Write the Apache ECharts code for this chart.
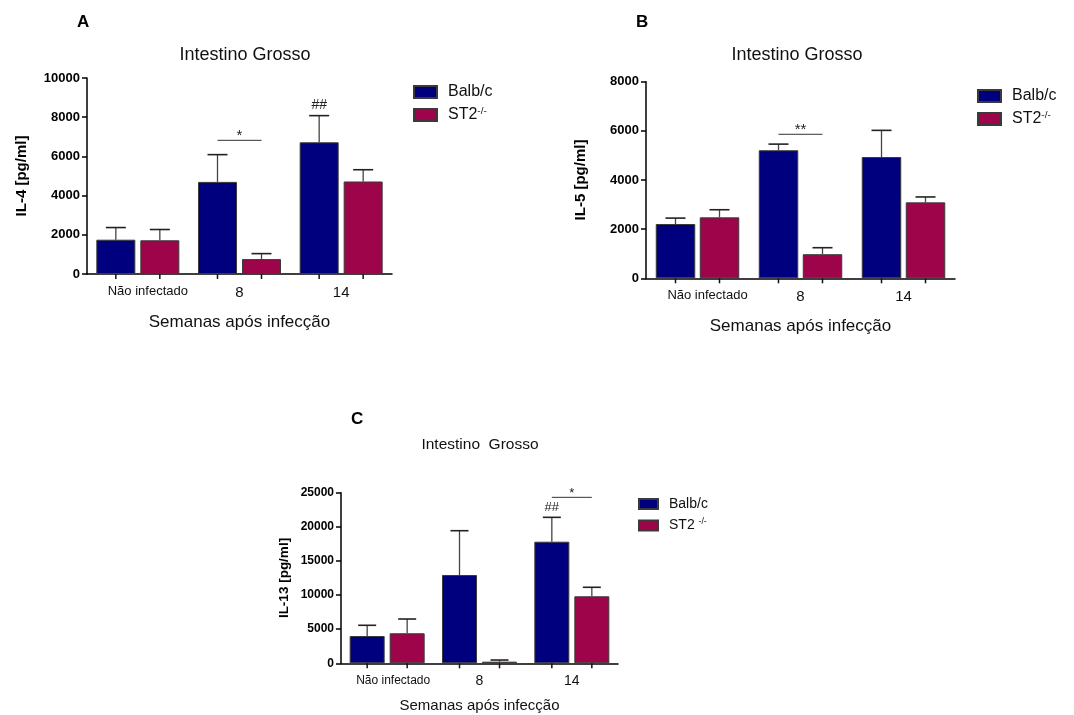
<!DOCTYPE html>
<html>
<head>
<meta charset="utf-8">
<script src="https://cdn.jsdelivr.net/npm/echarts@6/dist/echarts.min.js"></script>
<style>
  html, body { margin: 0; padding: 0; background: #fff; }
  #chart { width: 1074px; height: 715px; }
</style>
</head>
<body>
<div id="chart"></div>
<script>
// dados
const categories = ['Não infectado', '8', '14']

const il4Balb = [1750, 4700, 6720]
const il4BalbSem = [620, 1390, 1360]
const il4St2 = [1720, 760, 4720]
const il4St2Sem = [550, 280, 600]

const il5Balb = [2210, 5210, 4935]
const il5BalbSem = [240, 250, 1085]
const il5St2 = [2480, 980, 3090]
const il5St2Sem = [310, 265, 220]

const il13Balb = [4000, 12940, 17820]
const il13BalbSem = [1570, 6490, 3570]
const il13St2 = [4400, 240, 9820]
const il13St2Sem = [2090, 240, 1320]

// eixos y
const il4Ticks = [0, 2000, 4000, 6000, 8000, 10000]
const il5Ticks = [0, 2000, 4000, 6000, 8000]
const il13Ticks = [0, 5000, 10000, 15000, 20000, 25000]

// significancia: categoria, nivel da linha, texto
const sigCatA = [1], sigLevelA = [6820], sigTextA = ['*']
const sigCatB = [1], sigLevelB = [5860], sigTextB = ['**']
const sigCatC = [2], sigLevelC = [24320], sigTextC = ['*']

// ## acima da barra Balb/c
const hashCatA = [2], hashCatB = [], hashCatC = [2]

const FONT = 'Arial, "Liberation Sans", sans-serif'
const NAVY = '#00007f'
const WINE = '#9e0449'

const panels = [
  {
    grid: { left: 87, top: 78, width: 305, height: 196 },
    ticks: il4Ticks, yName: 'IL-4 [pg/ml]',
    balb: il4Balb, balbSem: il4BalbSem, st2: il4St2, st2Sem: il4St2Sem,
    st2Name: 'ST2-/-', barW: 39, gap: 5, cap: 20,
    sigCat: sigCatA, sigLevel: sigLevelA, sigText: sigTextA, hashCat: hashCatA,
    yFont: 13, yNameFont: 15, yNameGap: 58, xFont: 15, xSmall: 13, xNameFont: 17, xNameGap: 40, padNao: 20, sigFont: 15,
    legend: { left: 413, top: 84, itemWidth: 23, itemHeight: 12, itemGap: 6, fontSize: 16 }
  },
  {
    grid: { left: 646, top: 81.7, width: 309, height: 196.6 },
    ticks: il5Ticks, yName: 'IL-5 [pg/ml]',
    balb: il5Balb, balbSem: il5BalbSem, st2: il5St2, st2Sem: il5St2Sem,
    st2Name: 'ST2-/-', barW: 39.5, gap: 4.5, cap: 20,
    sigCat: sigCatB, sigLevel: sigLevelB, sigText: sigTextB, hashCat: hashCatB,
    yFont: 13, yNameFont: 15, yNameGap: 58, xFont: 15, xSmall: 13, xNameFont: 17, xNameGap: 40, padNao: 20, sigFont: 15,
    legend: { left: 977, top: 88, itemWidth: 23, itemHeight: 12, itemGap: 6, fontSize: 16 }
  },
  {
    grid: { left: 341, top: 492.7, width: 277, height: 170.6 },
    ticks: il13Ticks, yName: 'IL-13 [pg/ml]',
    balb: il13Balb, balbSem: il13BalbSem, st2: il13St2, st2Sem: il13St2Sem,
    st2Name: 'ST2 -/-', barW: 35, gap: 5, cap: 18,
    sigCat: sigCatC, sigLevel: sigLevelC, sigText: sigTextC, hashCat: hashCatC,
    yFont: 12, yNameFont: 13.5, yNameGap: 50, xFont: 14, xSmall: 12, xNameFont: 15, xNameGap: 35, padNao: 12, sigFont: 13,
    legend: { left: 638, top: 497, itemWidth: 19, itemHeight: 10, itemGap: 6, fontSize: 14 }
  }
]

function errRender(off, capW) {
  return function (params, api) {
    const i = api.value(0)
    const m = api.value(1)
    const s = api.value(2)
    const base = api.coord([i, m])
    const top = api.coord([i, m + s])
    const zero = api.coord([i, 0])
    const x = base[0] + off
    return {
      type: 'group',
      children: [
        { type: 'line', shape: { x1: x, y1: base[1], x2: x, y2: top[1] }, style: { stroke: '#444', lineWidth: 1.3 } },
        { type: 'line', shape: { x1: x - capW / 2, y1: top[1], x2: x + capW / 2, y2: top[1] }, style: { stroke: '#222', lineWidth: 1.6 } },
        { type: 'line', shape: { x1: x, y1: zero[1], x2: x, y2: zero[1] + 5 }, style: { stroke: '#111', lineWidth: 1.5 } }
      ]
    }
  }
}

function sigRender(off, texts, fontSize) {
  return function (params, api) {
    const p = api.coord([api.value(0), api.value(1)])
    return {
      type: 'group',
      children: [
        { type: 'line', shape: { x1: p[0] - off, y1: p[1], x2: p[0] + off, y2: p[1] }, style: { stroke: '#333', lineWidth: 1 } },
        { type: 'text', x: p[0], y: p[1] + 3, style: { text: texts[params.dataIndex], font: fontSize + 'px ' + FONT, fill: '#222', align: 'center', verticalAlign: 'bottom' } }
      ]
    }
  }
}

function hashRender(off, fontSize) {
  return function (params, api) {
    const p = api.coord([api.value(0), api.value(1)])
    return {
      type: 'text', x: p[0] + off, y: p[1] - 3,
      style: { text: '##', font: fontSize + 'px ' + FONT, fill: '#222', align: 'center', verticalAlign: 'bottom' }
    }
  }
}

const option = {
  animation: false,
  title: [
    { text: 'A', left: 72, top: 9, textStyle: { fontFamily: FONT, fontWeight: 'bold', fontSize: 17, color: '#000' } },
    { text: 'B', left: 631, top: 9, textStyle: { fontFamily: FONT, fontWeight: 'bold', fontSize: 17, color: '#000' } },
    { text: 'C', left: 346, top: 406, textStyle: { fontFamily: FONT, fontWeight: 'bold', fontSize: 17, color: '#000' } },
    { text: 'Intestino Grosso', left: 240, top: 41, textAlign: 'center', textStyle: { fontFamily: FONT, fontWeight: 'normal', fontSize: 18, color: '#111' } },
    { text: 'Intestino Grosso', left: 792, top: 41, textAlign: 'center', textStyle: { fontFamily: FONT, fontWeight: 'normal', fontSize: 18, color: '#111' } },
    { text: 'Intestino  Grosso', left: 475, top: 432, textAlign: 'center', textStyle: { fontFamily: FONT, fontWeight: 'normal', fontSize: 15.5, color: '#111' } }
  ],
  grid: [],
  xAxis: [],
  yAxis: [],
  legend: [],
  series: []
}

panels.forEach(function (p, k) {
  option.grid.push(Object.assign({ containLabel: false }, p.grid))
  option.xAxis.push({
    type: 'category',
    gridIndex: k,
    data: categories,
    name: 'Semanas após infecção',
    nameLocation: 'middle',
    nameGap: p.xNameGap,
    nameTextStyle: { fontFamily: FONT, fontSize: p.xNameFont, color: '#111', verticalAlign: 'top' },
    axisLine: { lineStyle: { color: '#000', width: 1.5 } },
    axisTick: { show: false },
    axisLabel: {
      interval: 0,
      margin: 11,
      formatter: function (v) { return v === 'Não infectado' ? '{s|' + v + '}' : '{b|' + v + '}' },
      rich: {
        s: { fontFamily: FONT, fontSize: p.xSmall, color: '#111', padding: [0, 0, 0, p.padNao] },
        b: { fontFamily: FONT, fontSize: p.xFont, color: '#111' }
      }
    }
  })
  option.yAxis.push({
    type: 'value',
    gridIndex: k,
    min: 0,
    max: p.ticks[p.ticks.length - 1],
    interval: p.ticks[1] - p.ticks[0],
    name: p.yName,
    nameLocation: 'middle',
    nameGap: p.yNameGap,
    nameTextStyle: { fontFamily: FONT, fontSize: p.yNameFont, fontWeight: 'bold', color: '#000' },
    axisLine: { show: true, lineStyle: { color: '#000', width: 1.5 } },
    axisTick: { show: true, length: 5, lineStyle: { color: '#000', width: 1.5 } },
    axisLabel: {
      margin: 7, fontFamily: FONT, fontSize: p.yFont, fontWeight: 'bold', color: '#000',
      formatter: function (v) { return String(v) }
    },
    splitLine: { show: false }
  })

  const off = (p.barW + p.gap) / 2
  const itemBorder = { borderColor: '#3a3a3a', borderWidth: 1 }
  option.series.push({
    name: 'Balb/c', type: 'bar', xAxisIndex: k, yAxisIndex: k,
    data: p.balb, barWidth: p.barW, barGap: (p.gap / p.barW * 100) + '%',
    itemStyle: Object.assign({ color: NAVY }, itemBorder)
  })
  option.series.push({
    name: p.st2Name, type: 'bar', xAxisIndex: k, yAxisIndex: k,
    data: p.st2, barWidth: p.barW, barGap: (p.gap / p.barW * 100) + '%',
    itemStyle: Object.assign({ color: WINE }, itemBorder)
  })
  option.series.push({
    type: 'custom', xAxisIndex: k, yAxisIndex: k, z: 5, clip: false,
    renderItem: errRender(-off, p.cap),
    data: categories.map(function (c, i) { return [i, p.balb[i], p.balbSem[i]] })
  })
  option.series.push({
    type: 'custom', xAxisIndex: k, yAxisIndex: k, z: 5, clip: false,
    renderItem: errRender(off, p.cap),
    data: categories.map(function (c, i) { return [i, p.st2[i], p.st2Sem[i]] })
  })
  option.series.push({
    type: 'custom', xAxisIndex: k, yAxisIndex: k, z: 6, clip: false,
    renderItem: sigRender(off, p.sigText, p.sigFont),
    data: p.sigCat.map(function (c, i) { return [c, p.sigLevel[i]] })
  })
  option.series.push({
    type: 'custom', xAxisIndex: k, yAxisIndex: k, z: 6, clip: false,
    renderItem: hashRender(-off, p.yFont + 1),
    data: p.hashCat.map(function (c) { return [c, p.balb[c] + p.balbSem[c]] })
  })

  option.legend.push({
    orient: 'vertical',
    left: p.legend.left,
    top: p.legend.top,
    padding: 0,
    itemWidth: p.legend.itemWidth,
    itemHeight: p.legend.itemHeight,
    itemGap: p.legend.itemGap,
    selectedMode: false,
    icon: 'rect',
    data: ['Balb/c', p.st2Name],
    formatter: function (n) {
      if (n.indexOf('ST2') === 0) {
        return '{n|' + n.slice(0, n.indexOf('-')) + '}{s|-/-}'
      }
      return '{n|' + n + '}'
    },
    textStyle: {
      padding: [0, 0, 0, 6],
      rich: {
        n: { fontFamily: FONT, fontSize: p.legend.fontSize, color: '#111' },
        s: { fontFamily: FONT, fontSize: p.legend.fontSize * 0.62, color: '#111', verticalAlign: 'top', padding: [0, 0, 8, 0] }
      }
    }
  })
})

const chart = echarts.init(document.getElementById('chart'))
chart.setOption(option)
</script>
</body>
</html>
